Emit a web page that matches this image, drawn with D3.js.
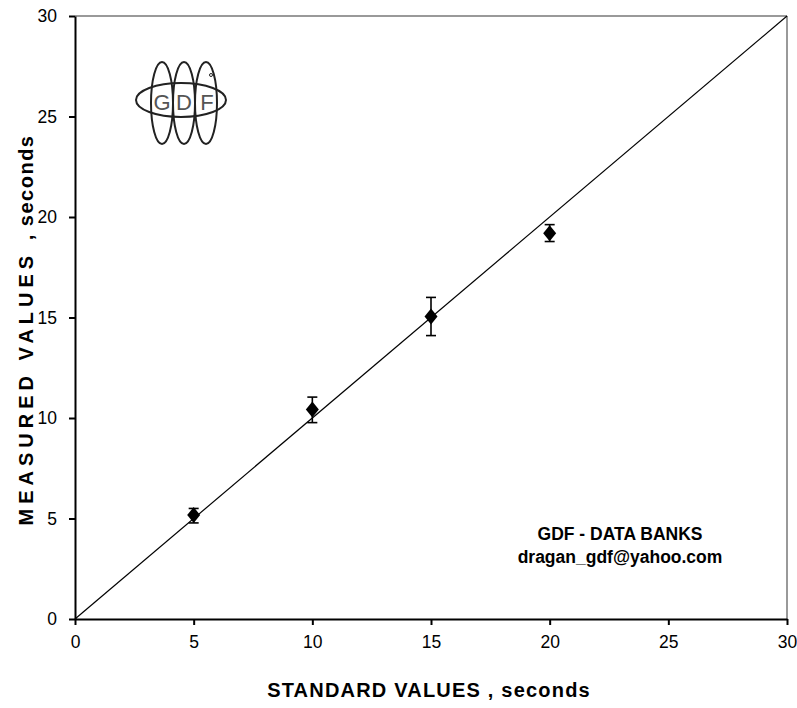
<!DOCTYPE html>
<html>
<head>
<meta charset="utf-8">
<script src="https://cdn.jsdelivr.net/npm/d3@7"></script>
<style>
  body { margin: 0; background: #fff; }
  svg { display: block; font-family: "Liberation Sans", Arial, sans-serif; }
</style>
</head>
<body>
<svg id="chart" width="797" height="708"></svg>
<script>
// Data
const standardValues = [5, 10, 15, 20];
const measuredValues = [5.17, 10.42, 15.05, 19.19];
const errorUpper = [5.50, 11.04, 16.00, 19.62];
const errorLower = [4.78, 9.77, 14.10, 18.78];
const xTicks = [0, 5, 10, 15, 20, 25, 30];
const yTicks = [0, 5, 10, 15, 20, 25, 30];
const identityLine = [0, 30];

const svg = d3.select("#chart");
const mLeft = 75, mRight = 787, mTop = 16, mBottom = 619;

const x = d3.scaleLinear().domain([0, 30]).range([mLeft, mRight]);
const y = d3.scaleLinear().domain([0, 30]).range([mBottom, mTop]);

// plot border (top/right gray)
svg.append("line").attr("x1", mLeft).attr("x2", mRight).attr("y1", mTop).attr("y2", mTop)
  .attr("stroke", "#999").attr("stroke-width", 2);
svg.append("line").attr("x1", mRight).attr("x2", mRight).attr("y1", mTop).attr("y2", mBottom)
  .attr("stroke", "#999").attr("stroke-width", 2);

// axes
const xAxis = svg.append("g").attr("transform", `translate(0,${mBottom})`)
  .call(d3.axisBottom(x).tickValues(xTicks).tickSize(6).tickSizeOuter(0).tickPadding(11));
const yAxis = svg.append("g").attr("transform", `translate(${mLeft},0)`)
  .call(d3.axisLeft(y).tickValues(yTicks).tickSize(6).tickSizeOuter(0).tickPadding(12));
[xAxis, yAxis].forEach(g => {
  g.select(".domain").attr("stroke", "#000").attr("stroke-width", 2);
  g.selectAll(".tick line").attr("stroke", "#000").attr("stroke-width", 2);
  g.selectAll(".tick text").attr("fill", "#000").style("font-size", "17.5px")
    .style("font-family", "'Liberation Sans', Arial, sans-serif");
});

// identity line
svg.append("line")
  .attr("x1", x(identityLine[0])).attr("y1", y(identityLine[0]))
  .attr("x2", x(identityLine[1])).attr("y2", y(identityLine[1]))
  .attr("stroke", "#000").attr("stroke-width", 1.2);

// error bars
const pts = standardValues.map((s, i) => ({ s, m: measuredValues[i], hi: errorUpper[i], lo: errorLower[i] }));
const eb = svg.append("g").attr("stroke", "#000").attr("stroke-width", 1.6);
pts.forEach(p => {
  eb.append("line").attr("x1", x(p.s)).attr("x2", x(p.s)).attr("y1", y(p.hi)).attr("y2", y(p.lo));
  eb.append("line").attr("x1", x(p.s) - 5).attr("x2", x(p.s) + 5).attr("y1", y(p.hi)).attr("y2", y(p.hi));
  eb.append("line").attr("x1", x(p.s) - 5).attr("x2", x(p.s) + 5).attr("y1", y(p.lo)).attr("y2", y(p.lo));
});

// diamond markers
svg.append("g").selectAll("path").data(pts).join("path")
  .attr("d", d => {
    const cx = x(d.s), cy = y(d.m), w = 6.5, h = 8;
    return `M${cx},${cy - h}L${cx + w},${cy}L${cx},${cy + h}L${cx - w},${cy}Z`;
  })
  .attr("fill", "#000");

// axis titles
svg.append("text").attr("x", 429).attr("y", 697)
  .attr("text-anchor", "middle").style("font-size", "20px").style("font-weight", "bold")
  .style("letter-spacing", "1.2px")
  .text("STANDARD VALUES , seconds");

const yt = svg.append("text").attr("transform", `translate(33,330) rotate(-90)`)
  .attr("text-anchor", "middle").style("font-size", "20px").style("font-weight", "bold");
yt.append("tspan").style("letter-spacing", "5px").text("MEASURED VALUES  ");
yt.append("tspan").style("letter-spacing", "1.5px").text(", seconds");

// annotation
svg.append("text").attr("x", 620).attr("y", 540).attr("text-anchor", "middle")
  .style("font-size", "17.5px").style("font-weight", "bold").text("GDF - DATA BANKS");
svg.append("text").attr("x", 620).attr("y", 563).attr("text-anchor", "middle")
  .style("font-size", "17.5px").style("font-weight", "bold").text("dragan_gdf@yahoo.com");

// logo
const logo = svg.append("g").attr("fill", "none").attr("stroke", "#222").attr("stroke-width", 2);
[162, 184, 206].forEach(cx => {
  logo.append("ellipse").attr("cx", cx).attr("cy", 103).attr("rx", 11).attr("ry", 41);
});
logo.append("ellipse").attr("cx", 181).attr("cy", 100).attr("rx", 45).attr("ry", 17);
logo.append("circle").attr("cx", 211).attr("cy", 75).attr("r", 1.5).attr("stroke-width", 1);
[["G", 162], ["D", 184], ["F", 207]].forEach(([t, cx]) => {
  svg.append("text").attr("x", cx).attr("y", 110).attr("text-anchor", "middle")
    .style("font-size", "22px").style("font-weight", "300").attr("fill", "#555").text(t);
});
</script>
</body>
</html>
